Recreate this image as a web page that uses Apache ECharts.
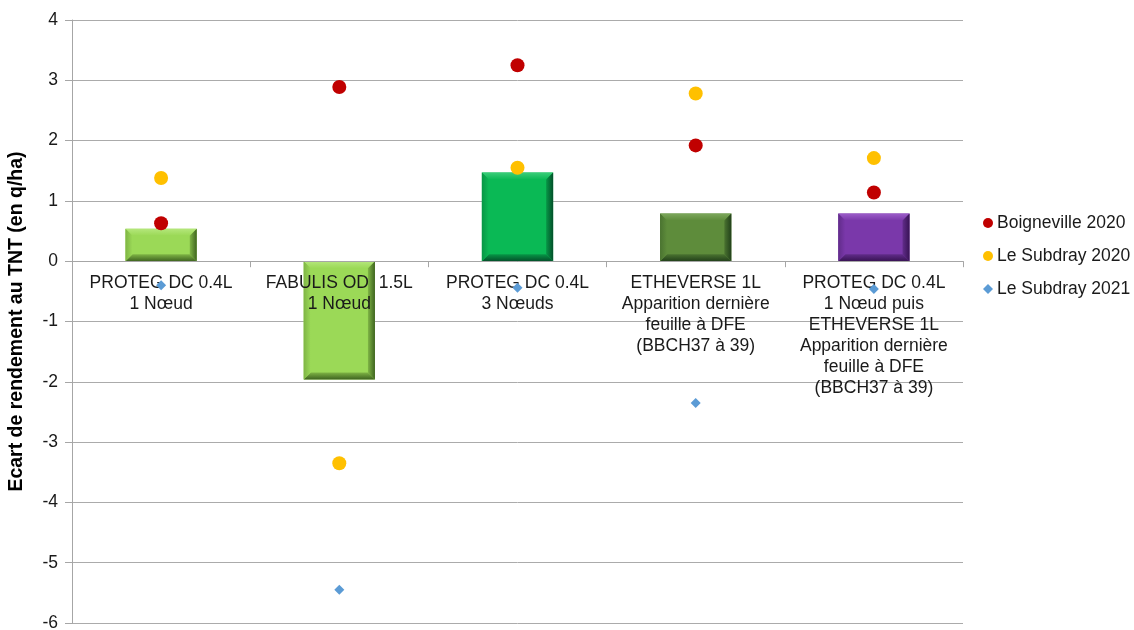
<!DOCTYPE html>
<html>
<head>
<meta charset="utf-8">
<script src="https://cdn.jsdelivr.net/npm/echarts@6/dist/echarts.min.js"></script>
<style>
html,body{margin:0;padding:0;background:#fff;}
#chart{width:1134px;height:630px;}
</style>
</head>
<body>
<div id="chart"></div>
<script>
var categories = [
  "PROTEG DC 0.4L\n1 Nœud",
  "FABULIS OD  1.5L\n1 Nœud",
  "PROTEG DC 0.4L\n3 Nœuds",
  "ETHEVERSE 1L\nApparition dernière\nfeuille à DFE\n(BBCH37 à 39)",
  "PROTEG DC 0.4L\n1 Nœud puis\nETHEVERSE 1L\nApparition dernière\nfeuille à DFE\n(BBCH37 à 39)"
];
var meanValues = [0.54, -1.96, 1.47, 0.79, 0.79];
var boigneville2020 = [0.63, 2.89, 3.25, 1.92, 1.14];
var subdray2020 = [1.38, -3.35, 1.55, 2.78, 1.71];
var subdray2021 = [-0.40, -5.45, -0.44, -2.35, -0.46];
var yTicks = { min: -6, max: 4, interval: 1 };

var barStyles = [
  { face: '#9bd957', light: '#b5e77c', mid: '#7fb545', dark: '#3f6420' },
  { face: '#9bd957', light: '#b5e77c', mid: '#7fb545', dark: '#3f6420' },
  { face: '#0ab955', light: '#3acd79', mid: '#079646', dark: '#03502a' },
  { face: '#5e8c3b', light: '#7ca75c', mid: '#4a7330', dark: '#22401a' },
  { face: '#7a38aa', light: '#9c5dc9', mid: '#612c8a', dark: '#381354' }
];

var barData = meanValues.map(function (v, i) { return [i, v]; });

function grad(x2, y2, c1, c2) {
  return { type: 'linear', x: 0, y: 0, x2: x2, y2: y2, global: false,
    colorStops: [{ offset: 0, color: c1 }, { offset: 1, color: c2 }] };
}

var chart = echarts.init(document.getElementById('chart'));
var font = 'Liberation Sans, Arial, sans-serif';
var option = {
  animation: false,
  backgroundColor: '#fff',
  grid: { left: 72, right: 171, top: 20, bottom: 7, outerBoundsMode: 'none', containLabel: false },
  legend: {
    orient: 'vertical',
    left: 978,
    top: 209,
    itemWidth: 10,
    itemHeight: 10,
    itemGap: 15,
    data: [
      { name: 'Boigneville 2020', icon: 'circle' },
      { name: 'Le Subdray 2020', icon: 'circle' },
      { name: 'Le Subdray 2021', icon: 'diamond' }
    ],
    textStyle: { fontFamily: font, fontSize: 17.5, color: '#1a1a1a', padding: [0, 0, 0, -1] }
  },
  xAxis: {
    type: 'category',
    data: categories,
    position: 'bottom',
    offset: 0,
    z: 10,
    axisLine: { onZero: false, lineStyle: { color: '#a6a6a6', width: 1 } },
    axisTick: { show: true, length: 6, lineStyle: { color: '#a6a6a6' } },
    axisLabel: {
      interval: 0,
      margin: 11,
      hideOverlap: false,
      fontFamily: font,
      fontSize: 17.5,
      lineHeight: 21,
      color: '#1a1a1a'
    },
    splitLine: { show: false }
  },
  yAxis: {
    type: 'value',
    min: yTicks.min,
    max: yTicks.max,
    interval: yTicks.interval,
    name: 'Ecart de rendement au TNT (en q/ha)',
    nameLocation: 'middle',
    nameGap: 45,
    nameTextStyle: { fontFamily: font, fontSize: 19.5, fontWeight: 'bold', color: '#000' },
    axisLine: { show: true, lineStyle: { color: '#a6a6a6', width: 1 } },
    axisTick: { show: true, length: 7, lineStyle: { color: '#a6a6a6' } },
    axisLabel: { margin: 14, fontFamily: font, fontSize: 17.5, color: '#1a1a1a' },
    splitLine: { show: true, lineStyle: { color: '#ababab', width: 1 } }
  },
  series: [
    {
      type: 'custom',
      name: 'Moyenne',
      z: 2,
      data: barData,
      encode: { x: 0, y: 1 },
      renderItem: function (params, api) {
        var i = api.value(0), v = api.value(1);
        var base = api.coord([i, 0]);
        var tip = api.coord([i, v]);
        var w = api.size([1, 0])[0] * 0.4;
        var x0 = base[0] - w / 2, x1 = base[0] + w / 2;
        var yT = Math.min(base[1], tip[1]), yB = Math.max(base[1], tip[1]);
        var b = Math.min(7, (yB - yT) / 2);
        var c = barStyles[params.dataIndex];
        return {
          type: 'group',
          children: [
            { type: 'rect', shape: { x: x0, y: yT, width: w, height: yB - yT }, style: { fill: c.face } },
            { type: 'polygon', shape: { points: [[x0, yT], [x1, yT], [x1 - b, yT + b], [x0 + b, yT + b]] },
              style: { fill: grad(0, 1, c.light, c.face) } },
            { type: 'polygon', shape: { points: [[x0, yB], [x0 + b, yB - b], [x1 - b, yB - b], [x1, yB]] },
              style: { fill: grad(0, 1, c.mid, c.dark) } },
            { type: 'polygon', shape: { points: [[x0, yT], [x0 + b, yT + b], [x0 + b, yB - b], [x0, yB]] },
              style: { fill: grad(1, 0, c.mid, c.face) } },
            { type: 'polygon', shape: { points: [[x1, yT], [x1, yB], [x1 - b, yB - b], [x1 - b, yT + b]] },
              style: { fill: grad(1, 0, c.mid, c.dark) } }
          ]
        };
      }
    },
    {
      type: 'scatter', name: 'Boigneville 2020', data: boigneville2020, z: 20,
      symbol: 'circle', symbolSize: 14, itemStyle: { color: '#c00000', opacity: 1 }
    },
    {
      type: 'scatter', name: 'Le Subdray 2020', data: subdray2020, z: 20,
      symbol: 'circle', symbolSize: 14, itemStyle: { color: '#ffc000', opacity: 1 }
    },
    {
      type: 'scatter', name: 'Le Subdray 2021', data: subdray2021, z: 20,
      symbol: 'diamond', symbolSize: 10, itemStyle: { color: '#5b9bd5', opacity: 1 }
    }
  ]
};
chart.setOption(option);
// Move the category axis (line, ticks and labels) up to the value 0 of the y axis
var zeroY = chart.convertToPixel({ yAxisIndex: 0 }, 0);
var minY = chart.convertToPixel({ yAxisIndex: 0 }, yTicks.min);
chart.setOption({ xAxis: { offset: zeroY - minY } });
</script>
</body>
</html>
